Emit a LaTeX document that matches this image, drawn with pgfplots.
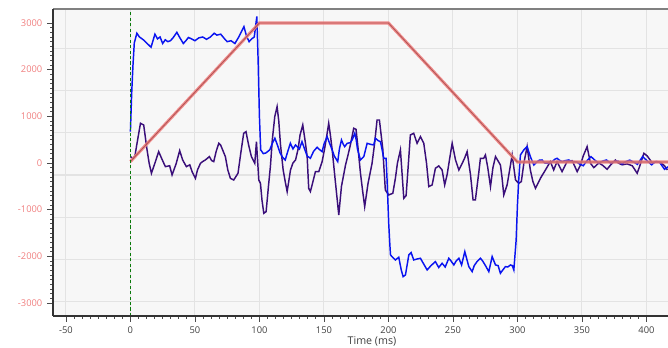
\documentclass[border=0pt]{standalone}
\usepackage{pgfplots}
\pgfplotsset{compat=1.18}
\usepackage{fontspec}
\setmainfont{Open Sans}
\definecolor{bgc}{HTML}{F7F7F7}
\definecolor{salm}{HTML}{F08080}
\definecolor{darkred}{HTML}{7A2A2A}
\definecolor{blu}{HTML}{0A14F0}
\definecolor{purp}{HTML}{3A0F7A}
\definecolor{dgreen}{HTML}{0A7A0A}
\begin{document}
\begin{tikzpicture}
\useasboundingbox (-39.75pt,-24pt) rectangle (461.25pt,237pt);
\begin{axis}[at={(0,0)}, anchor=south west, scale only axis,
  width=461.25pt, height=230.25pt,
  xmin=-60, xmax=416.7, ymin=-3280, ymax=3300,
  clip=false,
  axis background/.style={fill=bgc},
  axis line style={draw=none},
  tick pos=left, tick align=outside,
  xtick={-50,0,...,400}, ytick={-3000,-2000,...,3000},
  minor x tick num=7, minor y tick num=9,
  major tick length=4.5pt, minor tick length=2.25pt,
  tick style={color=black!70, line width=0.6pt},
  xmajorgrids, major grid style={color=black!11, line width=0.8pt},
  extra y ticks={-2979,-2072,-1165,-258,649,1556,2463}, extra y tick labels={},
  extra y tick style={major tick length=0pt, ymajorgrids=true, major grid style={color=black!11, line width=0.8pt}},
  /pgf/number format/1000 sep={}, /pgf/number format/assume math mode=true,
  xticklabel style={font=\fontsize{7}{8}\selectfont, text=black!75},
  yticklabel style={font=\fontsize{7}{8}\selectfont, text=salm},
]
\addplot[purp, line width=1.1pt, no marks] coordinates {
(0,136)(1.8,100)(3.5,150)(5,400)(7.8,850)(10.3,814)(12.9,279)(14.5,0)(16.3,-221)(19.4,29)(21.9,243)(24.5,79)(27.1,-79)(30.4,-60)(32.3,-257)(35.4,-20)(38.2,264)(40.5,64)(43.4,-79)(46,-40)(48,-200)(50.4,-329)(52,-150)(54.3,-7)(56,30)(58.1,64)(61.2,136)(63,50)(64.6,29)(66.5,250)(68.5,421)(70,380)(73.6,136)(75.5,-150)(77.5,-329)(80.1,-364)(83.4,-221)(85.5,200)(87.8,636)(89.6,671)(91.5,400)(93.8,136)(96.4,-7)(97.7,457)(99.5,-364)(100.8,-436)(102,-800)(103.4,-1079)(105.2,-1043)(107,-500)(108.5,-79)(110,500)(111.9,993)(113.7,1207)(115,900)(116.3,400)(118.4,-150)(120,-400)(121.5,-614)(124.1,-150)(126,0)(128,64)(130,300)(131.5,600)(133.6,814)(135.7,421)(137,136)(138.2,-543)(139.5,-614)(141.5,-400)(143.4,-186)(146,-186)(148.6,29)(150.5,300)(152.5,636)(153.7,850)(155,600)(156.4,279)(159,-436)(161.5,-1114)(163.6,-500)(166.7,-50)(168.5,150)(170.5,386)(173.1,743)(174.9,720)(176.5,300)(178.3,-214)(180,-600)(181.6,-936)(184.2,-436)(187.3,-7)(189.2,400)(191.2,921)(193,921)(195.6,307)(197.6,-579)(200.2,-686)(203.4,-650)(205.4,-329)(207,0)(209.3,279)(210.5,-200)(211.9,-757)(213.7,-700)(215.5,0)(217,600)(219.6,636)(222.2,421)(224.8,564)(227.4,421)(229.5,0)(231.3,-507)(233.9,-470)(236.4,-114)(239,-64)(241.6,-150)(243.6,-471)(245.5,-250)(247.5,100)(249.4,421)(252,64)(254.6,-150)(257.2,-7)(259,100)(261,243)(263.6,-250)(265.6,-793)(267.4,-790)(270,-214)(271.3,100)(273.9,100)(275.2,171)(277,-100)(279.1,-507)(281,-100)(283,136)(286.8,-43)(288,-300)(289.4,-686)(292,-471)(295.9,171)(298.5,-364)(301,-436)(303,-400)(305,0)(307.5,350)(310,-150)(312,-400)(314,-543)(317.8,-329)(321.7,-150)(325.5,29)(328.1,-150)(330.7,29)(334.6,-186)(338.5,29)(342.4,50)(346.3,-186)(348.8,-50)(351,150)(354,350)(356.6,-7)(359.2,-100)(363.1,0)(366,-50)(369.5,-136)(372,-50)(375.9,64)(378,0)(381.1,-40)(385,-20)(389,-60)(392.8,-221)(395,-50)(398,207)(400.6,150)(404.5,0)(408,30)(411,10)(414,-60)(416.2,-150)
};
\addplot[blu, line width=1.1pt, no marks] coordinates {
(0,670)(1,1500)(2,2100)(3,2570)(5,2780)(7,2700)(10,2640)(13,2560)(16,2480)(19,2760)(21,2660)(23,2700)(25,2560)(27,2640)(29,2600)(31,2620)(33,2680)(36,2800)(38,2700)(41,2560)(43,2620)(45,2690)(48,2650)(50,2620)(53,2680)(56,2700)(59,2650)(62,2700)(65,2780)(67,2740)(70,2760)(73,2660)(75,2600)(78,2620)(81,2560)(84,2700)(88,2920)(90,2720)(92,2600)(94,2660)(96,2700)(98,3140)(99,2200)(100,1000)(101,280)(103,200)(105,214)(108,280)(110,420)(112,529)(114,380)(116,214)(118,120)(120,64)(122,250)(124,422)(126,300)(128,386)(131,300)(133,457)(135,300)(137,150)(139.5,100)(142,250)(144.7,336)(146,300)(148.6,243)(150,400)(152.5,564)(154,450)(156.4,279)(158,150)(160.7,29)(162,300)(163.6,493)(165,400)(166.1,350)(168,420)(170.5,436)(172,500)(173.9,636)(175,500)(176,300)(178.3,64)(180.9,136)(183.5,421)(186,400)(188.6,386)(189.9,529)(192,480)(193.8,457)(195,300)(196.4,100)(198.2,100)(199,-400)(200.2,-1286)(201,-1700)(201.6,-1971)(203.5,-2030)(205.4,-2079)(208,-2021)(210,-2300)(211.4,-2436)(213.2,-2400)(215.8,-1971)(217.6,-1921)(219.6,-2079)(222,-2060)(224.8,-2043)(227,-2150)(230,-2293)(233,-2200)(236.4,-2115)(239,-2240)(241.6,-2150)(244,-2230)(246.8,-2043)(248.5,-2100)(250.7,-2186)(252.5,-2100)(254.6,-2043)(256.7,-2186)(259.2,-1900)(262.3,-2221)(264.9,-2329)(266.5,-2200)(268.7,-2114)(271.3,-2043)(273,-2100)(275.2,-2200)(277.8,-2329)(280.4,-2007)(283,-2186)(285,-2200)(286.8,-2364)(288.5,-2300)(290.7,-2221)(292.5,-2230)(294.6,-2186)(296,-2200)(297.2,-2293)(299,-1650)(300,-900)(301,-364)(302.3,171)(304.9,279)(307.5,350)(310,136)(312.7,-43)(315.3,29)(317,60)(319.1,64)(321,0)(323,-7)(325,20)(327,29)(329,80)(330.7,100)(332.5,60)(334.6,29)(337,50)(339.8,64)(342,30)(343.6,29)(346,20)(348,-20)(351,-60)(354,50)(357,136)(360,60)(363,0)(366,40)(369,64)(372,0)(375,30)(378,40)(381,-20)(384,30)(387,60)(390,20)(393,-30)(397,136)(400,60)(404,-40)(407,30)(410,20)(414,-136)(417,-80)
};
\addplot[salm, opacity=0.9, line width=2.3pt, no marks] coordinates {(0,30)(100,3000)(200,3000)(300,20)(417,20)};
\addplot[darkred, opacity=0.55, line width=0.6pt, no marks] coordinates {(0,30)(100,3000)(200,3000)(300,20)(417,20)};
\addplot[dgreen, line width=1.25pt, dash pattern=on 2.3pt off 1.8pt, no marks] coordinates {(0,-3280)(0,3300)};
\draw[black!50, line width=1.6pt] (rel axis cs:0,1) -- (rel axis cs:1,1);
\draw[black!80, line width=0.8pt] (rel axis cs:0,0) -- (rel axis cs:0,1);
\draw[black!80, line width=0.8pt] (rel axis cs:0,0) -- (rel axis cs:1,0);
\end{axis}
\node[anchor=base, font=\fontsize{8}{9}\selectfont, text=black!75] at (239.25pt,-21.6pt) {Time (ms)};
\end{tikzpicture}
\end{document}
